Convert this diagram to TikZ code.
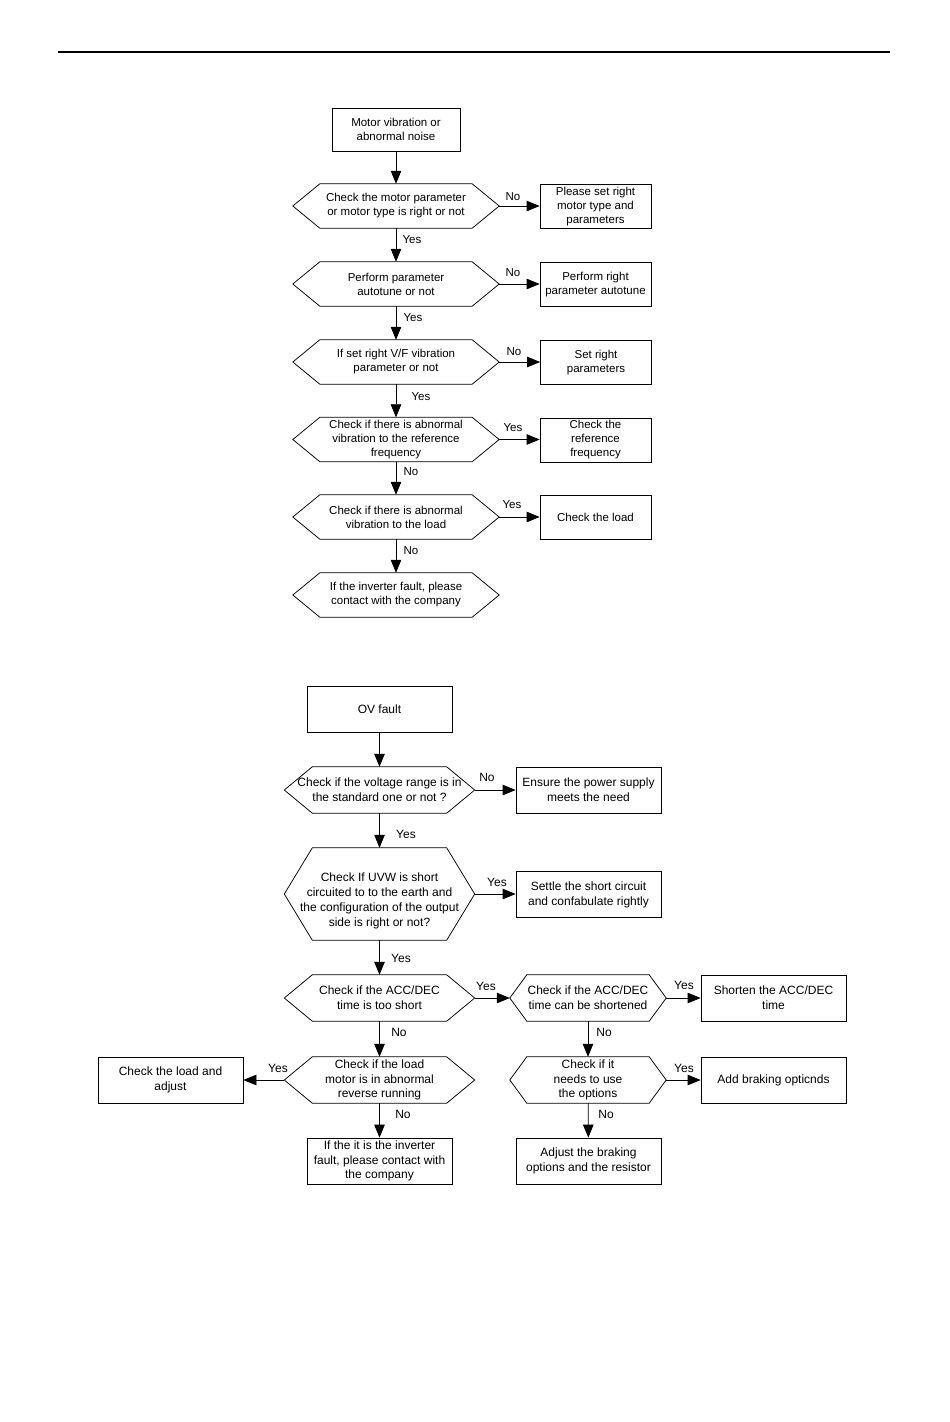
\documentclass[tikz,border=0pt]{standalone}
\usepackage{fontspec}
\setmainfont{Liberation Sans}
\usetikzlibrary{arrows.meta}
\newcommand\fntA{\fontsize{11.5}{14}\selectfont}
\newcommand\fntB{\fontsize{12}{14.8}\selectfont}
\newcommand\hexdraw[2]{\draw[hexline] (#1.west) -- ([xshift=#2]#1.north west) -- ([xshift=-#2]#1.north east) -- (#1.east) -- ([xshift=-#2]#1.south east) -- ([xshift=#2]#1.south west) -- cycle;}
\begin{document}
\begin{tikzpicture}[x=1pt,y=-1pt,
  box/.style={draw, line width=0.75pt, align=center, inner sep=0pt},
  hexn/.style={align=center, inner sep=0pt},
  hexline/.style={line width=0.75pt},
  tbox/.style={box, font=\fntA, minimum width=111pt, minimum height=44pt},
  thex/.style={hexn, font=\fntA, minimum width=206pt, minimum height=44pt},
  bbox/.style={box, font=\fntB, minimum width=145pt, minimum height=46pt},
  bhex/.style={hexn, font=\fntB, minimum width=190pt, minimum height=46pt},
  shex/.style={hexn, font=\fntB, minimum width=156pt, minimum height=46pt},
  lblA/.style={inner sep=0pt, font=\fntA},
  lblB/.style={inner sep=0pt, font=\fntB},
  arr/.style={line width=0.75pt, -{Triangle[length=13pt,width=10.5pt]}}]
\useasboundingbox (0,0) rectangle (950,1422);
\fill[white] (0,0) rectangle (950,1422);
% header rule
\draw[line width=2pt] (58,52) -- (890,52);

% ---------- top chart ----------
\node[box, font=\fntA, minimum width=128pt, minimum height=43pt] (t0) at (396,129.5) {Motor vibration or\\abnormal noise};
\node[thex] (t1) at (396,206) {Check the motor parameter\\or motor type is right or not};
\node[tbox] (r1) at (595.5,206.5) {Please set right\\motor type and\\parameters};
\node[thex] (t2) at (396,284) {Perform parameter\\autotune or not};
\node[tbox] (r2) at (595.5,284.5) {Perform right\\parameter autotune};
\node[thex] (t3) at (396,362) {If set right V/F vibration\\parameter or not};
\node[tbox] (r3) at (596,362.5) {Set right\\parameters};
\node[thex] (t4) at (396,439.5) {Check if there is abnormal\\vibration to the reference\\frequency};
\node[tbox] (r4) at (595.5,440) {Check the\\reference\\frequency};
\node[thex] (t5) at (396,517) {Check if there is abnormal\\vibration to the load};
\node[tbox] (r5) at (595.5,517) {Check the load};
\node[thex] (t6) at (396,595) {If the inverter fault, please\\contact with the company};
\foreach \n in {t1,t2,t3,t4,t5,t6} {\hexdraw{\n}{27pt}}

\draw[arr] (t0) -- (t1);
\draw[arr] (t1) -- (t2);
\draw[arr] (t2) -- (t3);
\draw[arr] (t3) -- (t4);
\draw[arr] (t4) -- (t5);
\draw[arr] (t5) -- (t6);
\draw[arr] (t1.east) -- (t1.east -| r1.west);
\draw[arr] (t2.east) -- (t2.east -| r2.west);
\draw[arr] (t3.east) -- (t3.east -| r3.west);
\draw[arr] (t4.east) -- (t4.east -| r4.west);
\draw[arr] (t5.east) -- (t5.east -| r5.west);

\node[lblA] (la1) at (513,197) {No};
\node[lblA] (la2) at (513,273) {No};
\node[lblA] (la3) at (514,352) {No};
\node[lblA] (la4) at (513,428) {Yes};
\node[lblA] (la5) at (512,505) {Yes};
\node[lblA] (lv1) at (412,240) {Yes};
\node[lblA] (lv2) at (413,318) {Yes};
\node[lblA] (lv3) at (421,397) {Yes};
\node[lblA] (lv4) at (411,472) {No};
\node[lblA] (lv5) at (411,551) {No};

% ---------- bottom chart ----------
\node[bbox] (b0) at (379.5,709) {OV fault};
\node[bhex] (ha) at (379.5,790) {Check if the voltage range is in\\the standard one or not ?};
\node[bbox] (e1) at (588.5,790) {Ensure the power supply\\meets the need};
\node[hexn, font=\fntB, minimum width=190pt, minimum height=92pt] (hb) at (379.5,894) {\raisebox{-7pt}[\height][\depth]{\begin{tabular}{@{}c@{}}Check If UVW is short\\circuited to to the earth and\\the configuration of the output\\side is right or not?\end{tabular}}};
\node[bbox] (e2) at (588.5,894.5) {Settle the short circuit\\and confabulate rightly};
\node[bhex] (hc) at (379.5,998) {Check if the ACC/DEC\\time is too short};
\node[shex] (hd) at (588,998) {Check if the ACC/DEC\\time can be shortened};
\node[bbox] (e3) at (773.5,998) {Shorten the ACC/DEC\\time};
\node[bhex] (he) at (379.5,1080) {Check if the load\\motor is in abnormal\\reverse running};
\node[bbox] (e4) at (170.5,1080) {Check the load and\\adjust};
\node[bbox] (e5) at (379.5,1161) {If the it is the inverter\\fault, please contact with\\the company};
\node[shex] (hf) at (588,1080) {Check if it\\needs to use\\the options};
\node[bbox] (e6) at (773.5,1080) {Add braking opticnds};
\node[bbox] (e7) at (588.5,1161) {Adjust the braking\\options and the resistor};
\foreach \n in {ha,hb,hc,he} {\hexdraw{\n}{28pt}}
\foreach \n in {hd,hf} {\hexdraw{\n}{17pt}}

\draw[arr] (b0) -- (ha);
\draw[arr] (ha) -- (hb);
\draw[arr] (hb) -- (hc);
\draw[arr] (hc) -- (he);
\draw[arr] (he) -- (e5);
\draw[arr] (hd) -- (hf);
\draw[arr] (hf) -- (e7);
\draw[arr] (ha.east) -- (ha.east -| e1.west);
\draw[arr] (hb.east) -- (hb.east -| e2.west);
\draw[arr] (hc.east) -- (hd.west);
\draw[arr] (hd.east) -- (hd.east -| e3.west);
\draw[arr] (hf.east) -- (hf.east -| e6.west);
\draw[arr] (he.west) -- (he.west -| e4.east);

\node[lblB] (lb1) at (487,777) {No};
\node[lblB] (lb2) at (406,834) {Yes};
\node[lblB] (lb3) at (497,882) {Yes};
\node[lblB] (lb4) at (401,958) {Yes};
\node[lblB] (lb5) at (486,986) {Yes};
\node[lblB] (lb6) at (684,985) {Yes};
\node[lblB] (lb7) at (399,1032) {No};
\node[lblB] (lb8) at (604,1032) {No};
\node[lblB] (lb9) at (278,1068) {Yes};
\node[lblB] (lb10) at (684,1068) {Yes};
\node[lblB] (lb11) at (403,1114) {No};
\node[lblB] (lb12) at (606,1114) {No};
\end{tikzpicture}
\end{document}
